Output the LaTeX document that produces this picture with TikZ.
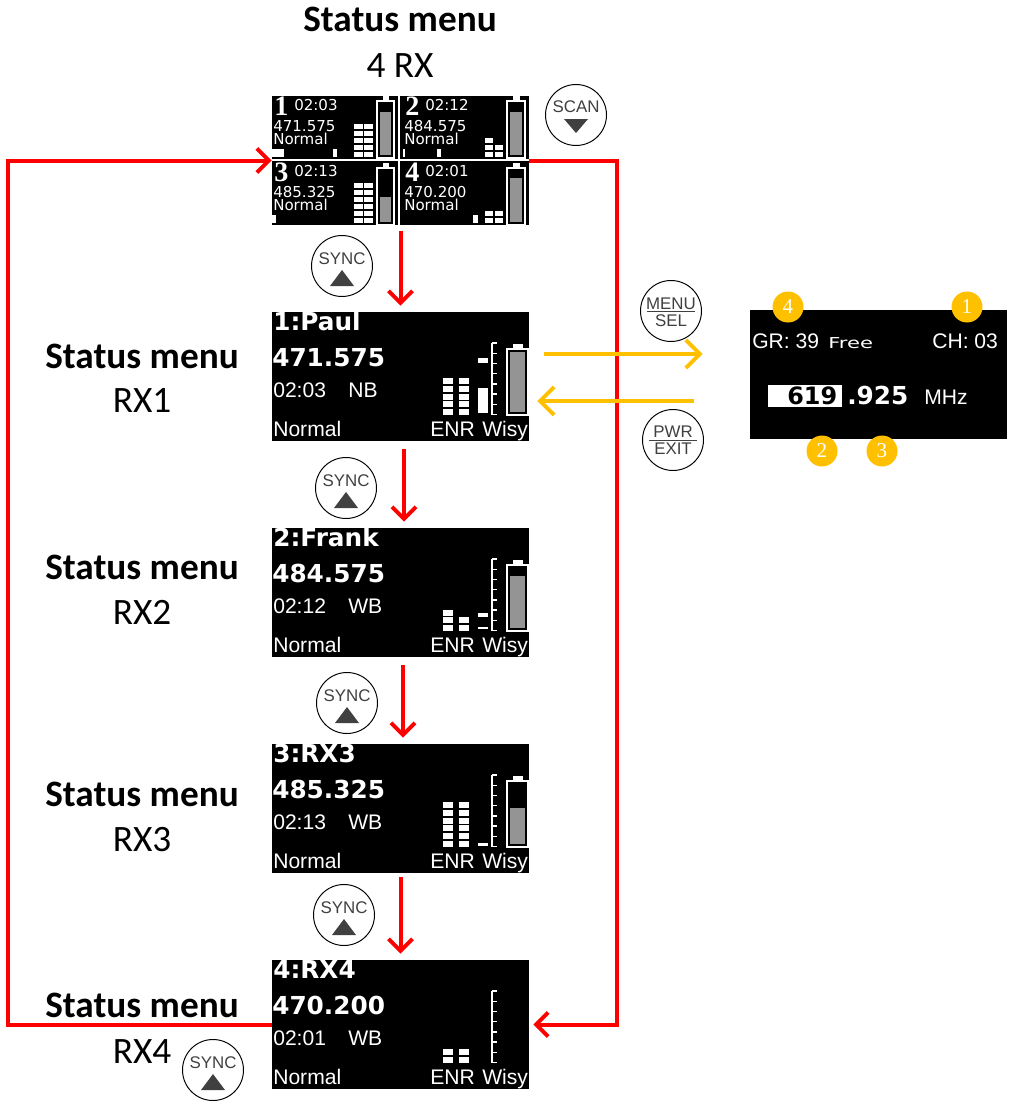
\documentclass[tikz,border=0pt]{standalone}
\usepackage{fontspec}
\usepackage{tikz}
\usetikzlibrary{arrows.meta,calc}
\setmainfont{Carlito}
\newfontfamily\lcdfont{DejaVu Sans}
\newfontfamily\keyfont{Liberation Sans}
\newfontfamily\digitfont{Liberation Serif}
\newcommand{\fsz}[1]{\fontsize{#1}{#1}\selectfont}
\definecolor{flowred}{HTML}{FF0000}
\definecolor{flowamber}{HTML}{FFC000}
\definecolor{keygray}{HTML}{404040}
\definecolor{dotgray}{HTML}{949494}
\tikzset{
  screen/.style={fill=black,inner sep=0,minimum width=257*0.025cm,minimum height=129*0.025cm},
  heading/.style={inner sep=0,anchor=base,font=\fsz{26.5}\bfseries},
  subheading/.style={inner sep=0,anchor=base,font=\fsz{26.5}},
  lcd/.style={inner sep=0,anchor=base west,text=white},
  lcdbig/.style={lcd,font=\lcdfont\fsz{17.6}\bfseries},
  lcdmid/.style={lcd,font=\keyfont\fsz{15}},
  lcdsmall/.style={lcd,font=\lcdfont\fsz{10.7}},
  lcddigit/.style={lcd,font=\digitfont\fsz{20}\bfseries},
  keybtn/.style={circle,draw=black,fill=white,line width=0.7pt,inner sep=0,minimum size=61*0.025cm},
  keytext/.style={inner sep=0,anchor=base,text=keygray,font=\keyfont\fsz{12}},
  badge/.style={circle,fill=flowamber,inner sep=0,minimum size=31*0.025cm,text=white,font=\digitfont\fsz{15}},
  redflow/.style={draw=flowred,line width=1mm,-{Straight Barb[length=3mm,width=6mm]}},
  amberflow/.style={draw=flowamber,line width=1mm,-{Straight Barb[length=3.5mm,width=7mm]}}
}
% column of level blocks: x, width, bottom, count, pitch, block height
\newcommand{\barcol}[6]{
  \foreach \i in {1,...,#4}
    \fill[white] (#1,{#3-(\i-1)*#5}) rectangle ({#1+#2},{#3-(\i-1)*#5-#6});
}
% battery: left, right, top, bottom, top of charge
\newcommand{\battery}[5]{
  \draw[white,line width=1pt] (#1,#3) rectangle (#2,#4);
  \fill[white] ({#1+6},{#3-5}) rectangle ({#2-5},#3);
  \fill[dotgray] ({#1+3},#5) rectangle ({#2-3},{#4-3});
}
% one RX screen: name, top, title, freq, time, band
\newcommand{\rxscreen}[6]{
  \node[screen] (#1) at (400.5,{#2+64.5}) {};
  \node[lcdbig] (#1title) at (273,{#2+18}) {#3};
  \node[lcdbig] (#1freq) at (272,{#2+54.5}) {#4};
  \node[lcdmid] (#1time) at (273,{#2+85}) {#5};
  \node[lcdmid] (#1band) at (348,{#2+85}) {#6};
  \node[lcdmid] (#1mode) at (273,{#2+124}) {Normal};
  \node[lcdmid] (#1enr) at (430,{#2+124}) {ENR};
  \node[lcdmid] (#1wisy) at (482,{#2+124}) {Wisy};
  \draw[white,line width=1pt] (492,{#2+31}) -- (492,{#2+103});
  \foreach \i in {0,...,7}
    \draw[white,line width=1pt] (492,{#2+31+\i*10.2}) -- (497,{#2+31+\i*10.2});
}
% one quad cell: name, left, baseline shift, digit, time, freq
\newcommand{\quadcell}[6]{
  \node[lcddigit] (#1digit) at ({#2+1},{#3+115}) {#4};
  \node[lcdsmall] (#1time) at ({#2+21},{#3+110}) {#5};
  \node[lcdsmall] (#1freq) at (#2,{#3+131}) {#6};
  \node[lcdsmall] (#1mode) at (#2,{#3+144}) {Normal};
}
% SYNC key: name, x, y
\newcommand{\synckey}[3]{
  \node[keybtn] (#1) at (#2,#3) {};
  \node[keytext] (#1text) at (#2,{#3-2}) {SYNC};
  \fill[keygray] ({#2-12},{#3+20}) -- ({#2+12},{#3+20}) -- (#2,{#3+4}) -- cycle;
}

\begin{document}
\begin{tikzpicture}[x=0.025cm,y=-0.025cm]
\useasboundingbox (0,0) rectangle (1009,1104);
\fill[white] (0,0) rectangle (1009,1104);

% headings
\node[heading] (headquad) at (400,32) {Status menu};
\node[subheading] (subquad) at (400,77) {4 RX};
\node[heading] (headrxa) at (142,368) {Status menu};
\node[subheading] (subrxa) at (142,412) {RX1};
\node[heading] (headrxb) at (142,579) {Status menu};
\node[subheading] (subrxb) at (142,624) {RX2};
\node[heading] (headrxc) at (142,806) {Status menu};
\node[subheading] (subrxc) at (142,851) {RX3};
\node[heading] (headrxd) at (142,1017) {Status menu};
\node[subheading] (subrxd) at (142,1063) {RX4};

% 4 RX screen
\node[screen] (quad) at (400.5,160.5) {};
\quadcell{qa}{273}{0}{1}{02:03}{471.575}
\quadcell{qb}{404}{0}{2}{02:12}{484.575}
\quadcell{qc}{273}{66}{3}{02:13}{485.325}
\quadcell{qd}{404}{66}{4}{02:01}{470.200}
\barcol{354}{9}{157}{5}{7}{5}
\barcol{364}{9}{157}{5}{7}{5}
\barcol{485}{8}{157}{3}{7}{5}
\barcol{495}{8}{157}{2}{7}{5}
\barcol{354}{9}{223}{6}{7}{5}
\barcol{364}{9}{223}{6}{7}{5}
\barcol{485}{8}{223}{2}{7}{5}
\barcol{495}{8}{223}{2}{7}{5}
\fill[white] (272,149) rectangle (284,157);
\fill[white] (333,149) rectangle (337,157);
\fill[white] (403,149) rectangle (405,157);
\fill[white] (437,149) rectangle (441,157);
\fill[white] (272,215) rectangle (276,223);
\fill[white] (473,215) rectangle (478,223);
\battery{377}{394}{101}{158}{112}
\battery{507}{525}{101}{158}{112}
\battery{377}{394}{168}{225}{197}
\battery{507}{525}{168}{225}{178}
\draw[white,line width=2pt] (272,160) -- (529,160);
\draw[white,line width=2pt] (399,96) -- (399,225);

% RX screens
\rxscreen{rxa}{312}{1:Paul}{471.575}{02:03}{NB}
\barcol{443}{10}{415}{5}{7.7}{6}
\barcol{459}{10}{415}{5}{7.7}{6}
\fill[white] (478,388) rectangle (488,413);
\fill[white] (478,358) rectangle (488,363);
\battery{507}{528}{349}{415}{352}

\rxscreen{rxb}{528}{2:Frank}{484.575}{02:12}{WB}
\barcol{443}{10}{631}{3}{7.7}{6}
\barcol{459}{10}{631}{2}{7.7}{6}
\fill[white] (478,613) rectangle (488,617);
\fill[white] (478,627) rectangle (488,629);
\battery{507}{528}{565}{631}{576}

\rxscreen{rxc}{744}{3:RX3}{485.325}{02:13}{WB}
\barcol{443}{10}{847}{6}{7.8}{6}
\barcol{459}{10}{847}{6}{7.8}{6}
\fill[white] (478,843) rectangle (488,846);
\battery{507}{528}{781}{847}{808}

\rxscreen{rxd}{960}{4:RX4}{470.200}{02:01}{WB}
\barcol{443}{10}{1063}{2}{7.7}{6}
\barcol{459}{10}{1063}{2}{7.7}{6}

% frequency screen
\node[screen] (cfg) at (878.5,374.5) {};
\node[lcdmid] (cfggr) at (752,348) {GR: 39};
\node[lcd] (cfgfree) at (828,348) {\lcdfont\fsz{10.7}\scalebox{1.4}[1]{Free}};
\node[lcdmid] (cfgch) at (932,348) {CH: 03};
\fill[white] (768,385) rectangle (842,407);
\node[lcdbig,text=black,font=\lcdfont\fsz{17}\bfseries] (cfgmhzhi) at (787,404) {619};
\node[lcdbig] (cfgmhzlo) at (847,404) {.925};
\node[lcdmid] (cfgunit) at (924,404) {MHz};
\node[badge] (mark4) at (788,307) {4};
\node[badge] (mark1) at (967,307) {1};
\node[badge] (mark2) at (822,451) {2};
\node[badge] (mark3) at (882,451) {3};

% keys
\synckey{synca}{342}{266}
\synckey{syncb}{346}{488}
\synckey{syncc}{347}{703}
\synckey{syncd}{344}{915}
\synckey{synce}{213}{1070}
\node[keybtn] (scan) at (576,115) {};
\node[keytext] (scantext) at (576,113) {SCAN};
\fill[keygray] (564,119) -- (588,119) -- (576,133) -- cycle;
\node[keybtn] (menu) at (671,311) {};
\node[keytext] (menutext) at (671,309) {MENU};
\node[keytext] (seltext) at (671,326) {SEL};
\draw[keygray,line width=0.7pt] (647,311) -- (695,311);
\node[keybtn] (pwr) at (673,440) {};
\node[keytext] (pwrtext) at (673,437) {PWR};
\node[keytext] (exittext) at (673,454) {EXIT};
\draw[keygray,line width=0.7pt] (649,440) -- (697,440);

% red flow
\draw[redflow] ($(quad.south)+(0,6)$) -- ($(rxa.north)+(0,-6)$);
\draw[redflow] ($(rxa.south)+(3.5,8)$) -- ($(rxb.north)+(3.5,-6)$);
\draw[redflow] ($(rxb.south)+(2.5,8)$) -- ($(rxc.north)+(2.5,-6)$);
\draw[redflow] ($(rxc.south)+(0,4)$) -- ($(rxd.north)+(0,-6)$);
\coordinate (loopbl) at (8,1024.5);
\coordinate (looptl) at (8,160.5);
\coordinate (looptr) at (617,160.5);
\coordinate (loopbr) at (617,1024.5);
\draw[redflow] (rxd.west) -- (loopbl) -- (looptl) -- (quad.west);
\draw[redflow] (quad.east) -- (looptr) -- (loopbr) -- ($(rxd.east)+(4,0)$);

% amber flow
\draw[amberflow] ($(rxa.east)+(15,-22.5)$) -- ($(cfg.west)+(-47,-20.5)$);
\draw[amberflow] ($(cfg.west)+(-56,26.5)$) -- ($(rxa.east)+(8,24.5)$);
\end{tikzpicture}
\end{document}
